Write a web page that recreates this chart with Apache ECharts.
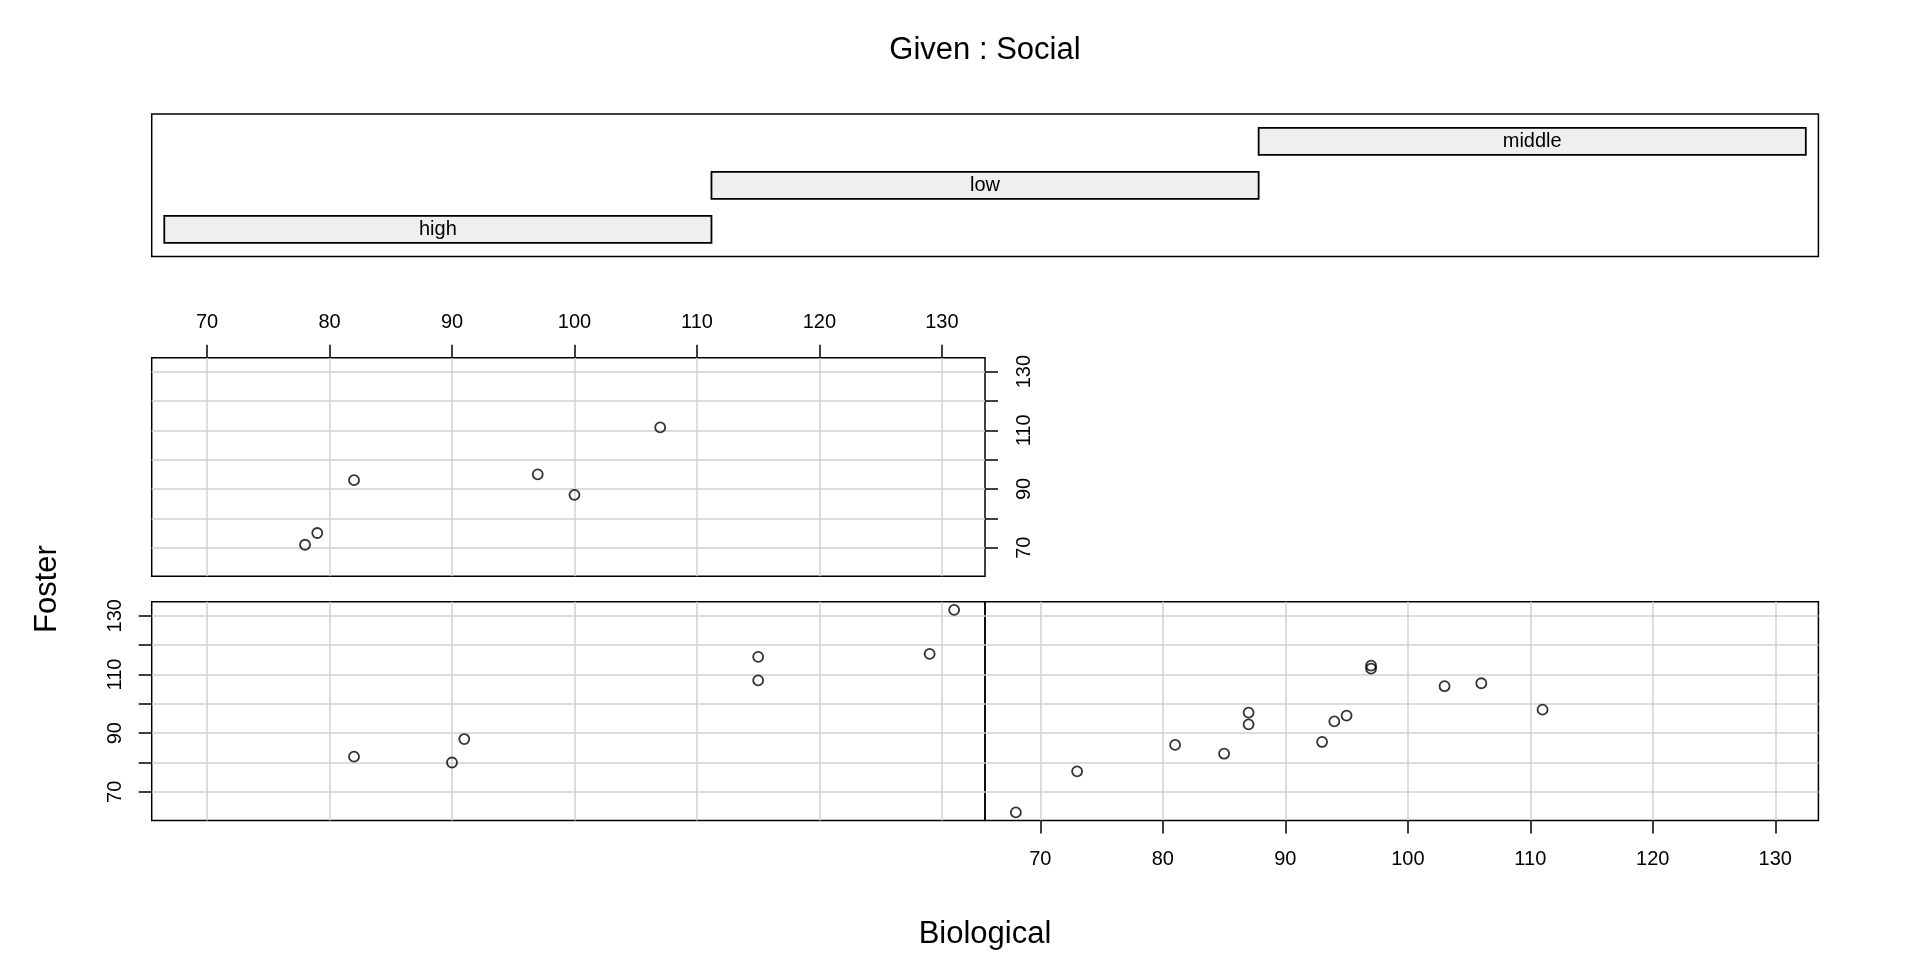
<!DOCTYPE html>
<html>
  <head>
    <meta charset="utf-8" />
    <script src="https://cdn.jsdelivr.net/npm/echarts@6.0.0/dist/echarts.min.js"></script>
    <style>
      html, body { margin: 0; padding: 0; background: #fff; }
    </style>
  </head>
  <body>
    <div id="main" style="width: 1920px; height: 960px"></div>

    <script type="text/javascript">
      // given panel: one bar per level of Social
      const levels = ["high", "low", "middle"];
      const levelStart = [0.5, 1.5, 2.5];
      const levelEnd = [1.5, 2.5, 3.5];

      // Biological (x) and Foster (y) per Social level
      const highBiological = [82, 90, 91, 115, 115, 129, 131];
      const highFoster = [82, 80, 88, 108, 116, 117, 132];
      const lowBiological = [68, 73, 81, 85, 87, 87, 93, 94, 95, 97, 97, 103, 106, 111];
      const lowFoster = [63, 77, 86, 83, 93, 97, 87, 94, 96, 112, 113, 106, 107, 98];
      const middleBiological = [78, 79, 82, 97, 100, 107];
      const middleFoster = [71, 75, 93, 95, 88, 111];

      // tick labels
      const tickValues = [70, 80, 90, 100, 110, 120, 130];
      const xLabelValues = [70, 80, 90, 100, 110, 120, 130];
      const yLabelValues = [70, 90, 110, 130];

      const xMin = 65.48, xMax = 133.52;
      const yMin = 60.24, yMax = 134.76;
      const font = "Liberation Sans";

      const gridLine = { show: true, lineStyle: { color: "#d0d0d0", width: 1.5 } };
      const tickStyle = { color: "#000", width: 1.5 };

      function xAxisFor(gridIndex, position, labelled) {
        return {
          type: "value",
          gridIndex: gridIndex,
          position: position,
          min: xMin,
          max: xMax,
          axisLine: { show: false },
          axisTick: { show: labelled, customValues: tickValues, length: 13, lineStyle: tickStyle },
          axisLabel: {
            show: labelled,
            customValues: xLabelValues,
            fontSize: 20,
            fontFamily: font,
            color: "#000",
            margin: position === "top" ? 25 : 29,
          },
          splitLine: gridLine,
        };
      }

      function yAxisFor(gridIndex, position, labelled) {
        return {
          type: "value",
          gridIndex: gridIndex,
          position: position,
          min: yMin,
          max: yMax,
          axisLine: { show: false },
          axisTick: { show: labelled, customValues: tickValues, length: 13, lineStyle: tickStyle },
          axisLabel: {
            show: labelled,
            customValues: yLabelValues,
            rotate: 90,
            fontSize: 20,
            fontFamily: font,
            color: "#000",
            margin: position === "right" ? 29 : 26,
          },
          splitLine: gridLine,
        };
      }

      function pairs(xs, ys) {
        return xs.map((v, i) => [v, ys[i]]);
      }

      function points(index, xs, ys) {
        return {
          type: "scatter",
          xAxisIndex: index,
          yAxisIndex: index,
          data: pairs(xs, ys),
          symbol: "circle",
          symbolSize: 10,
          itemStyle: { color: "rgba(0,0,0,0)", borderColor: "#000", borderWidth: 1.8 },
          z: 5,
        };
      }

      const border = { show: true, borderColor: "#000", borderWidth: 1.5, backgroundColor: "transparent" };

      var option = {
        animation: false,
        backgroundColor: "#fff",
        textStyle: { fontFamily: font },
        grid: [
          Object.assign({ left: 151.7, top: 114, width: 1666.7, height: 142.5 }, border),
          Object.assign({ left: 151.7, top: 357.7, width: 833.3, height: 218.6 }, border),
          Object.assign({ left: 151.7, top: 601.8, width: 833.3, height: 218.7 }, border),
          Object.assign({ left: 985, top: 601.8, width: 833.4, height: 218.7 }, border),
        ],
        xAxis: [
          { type: "value", gridIndex: 0, min: 0.477, max: 3.523, show: false },
          xAxisFor(1, "top", true),
          xAxisFor(2, "bottom", false),
          xAxisFor(3, "bottom", true),
        ],
        yAxis: [
          { type: "value", gridIndex: 0, min: 0.382, max: 3.62, show: false },
          yAxisFor(1, "right", true),
          yAxisFor(2, "left", true),
          yAxisFor(3, "left", false),
        ],
        graphic: [
          {
            type: "text",
            x: 985,
            y: 50,
            style: { text: "Given : Social", font: '31px "Liberation Sans"', fill: "#000", align: "center", verticalAlign: "middle" },
          },
          {
            type: "text",
            x: 985,
            y: 934,
            style: { text: "Biological", font: '31px "Liberation Sans"', fill: "#000", align: "center", verticalAlign: "middle" },
          },
          {
            type: "text",
            x: 47,
            y: 589,
            rotation: Math.PI / 2,
            style: { text: "Foster", font: '31px "Liberation Sans"', fill: "#000", align: "center", verticalAlign: "middle" },
          },
        ],
        series: [
          {
            type: "custom",
            xAxisIndex: 0,
            yAxisIndex: 0,
            data: levels.map((name, i) => [levelStart[i], levelEnd[i], i + 1]),
            renderItem: function (params, api) {
              const lo = api.coord([api.value(0), api.value(2)]);
              const hi = api.coord([api.value(1), api.value(2)]);
              const h = 27;
              return {
                type: "rect",
                shape: { x: lo[0], y: lo[1] - h / 2, width: hi[0] - lo[0], height: h },
                style: { fill: "#efefef", stroke: "#000", lineWidth: 1.8 },
                textContent: {
                  style: { text: levels[params.dataIndex], font: '20px "Liberation Sans"', fill: "#000" },
                },
                textConfig: { position: "inside" },
              };
            },
          },
          points(1, middleBiological, middleFoster),
          points(2, highBiological, highFoster),
          points(3, lowBiological, lowFoster),
        ],
      };

      const myChart = echarts.init(document.getElementById("main"));
      myChart.setOption(option);
    </script>
  </body>
</html>
